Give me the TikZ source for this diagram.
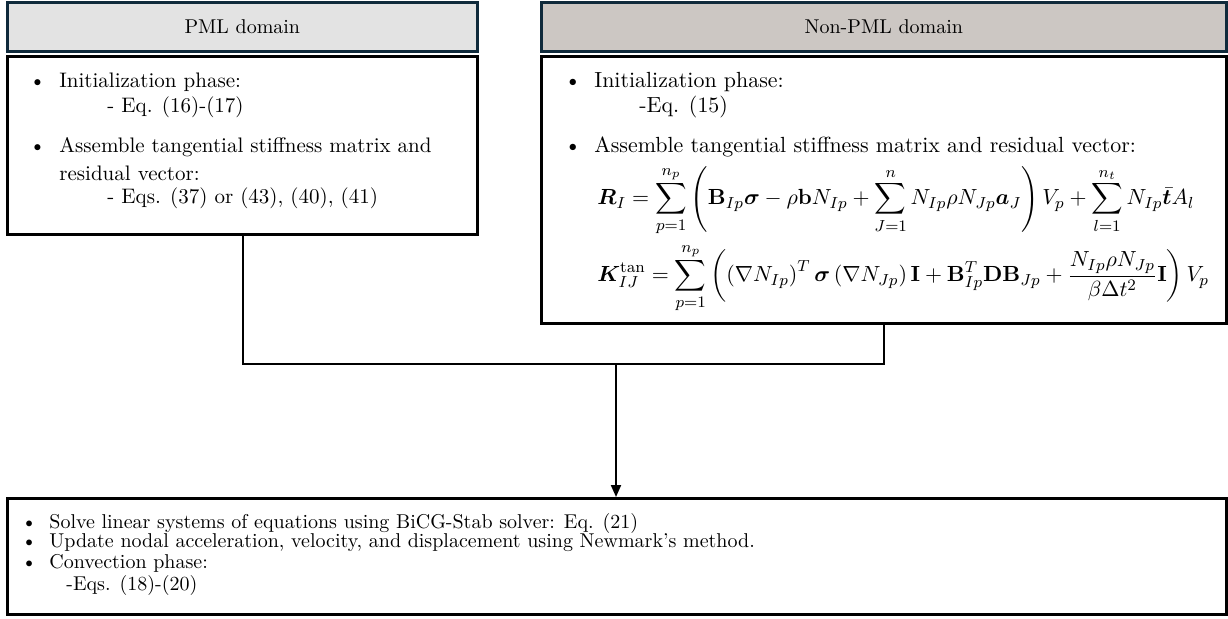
\documentclass[tikz,border=0pt]{standalone}
\usepackage{amsmath,amssymb,bm}
\usepackage{xcolor}
\usepackage{tikz}
\usetikzlibrary{positioning,calc,arrows.meta}

\definecolor{pmlfill}{HTML}{E3E3E3}
\definecolor{nonpmlfill}{HTML}{CCC7C3}
\definecolor{headline}{HTML}{0F2A3B}

\begin{document}
\begin{tikzpicture}[x=0.5pt,y=-0.5pt,
    headbox/.style={draw=headline, line width=1.3pt, minimum height=24.5pt, anchor=north west, inner sep=0pt},
    mainbox/.style={draw=black, line width=1.6pt, anchor=north west, inner sep=0pt},
    txt/.style={anchor=west, inner sep=0pt, font=\fontsize{10.5}{12.5}\selectfont},
    bigtxt/.style={txt, font=\fontsize{10.95}{13}\selectfont},
    smalltxt/.style={txt, font=\fontsize{10}{12}\selectfont},
    link/.style={line width=1pt}]
    \useasboundingbox (0,0) rectangle (1228,618);

    % PML
    \node[headbox, fill=pmlfill, minimum width=235pt] (pmlhead) at (6,1) {PML domain};
    \node[mainbox, minimum width=235pt, minimum height=89pt] (pmlbox) at (6,55) {};
    \node[txt] (pmlinit) at (29,82) {\makebox[15pt][l]{\textbullet}Initialization phase:};
    \node[txt] (pmlinitEq) at (107,107) {- Eq. (16)-(17)};
    \node[txt] (pmlasm) at (29,147) {\makebox[15pt][l]{\textbullet}Assemble tangential stiffness matrix and};
    \node[txt] (pmlasmB) at (59,173) {residual vector:};
    \node[txt] (pmlasmEq) at (107,198) {- Eqs. (37) or (43), (40), (41)};

    % Non-PML
    \node[headbox, fill=nonpmlfill, minimum width=342.5pt] (nonpmlhead) at (540,1) {Non-PML domain};
    \node[mainbox, minimum width=342.5pt, minimum height=133.5pt] (nonpmlbox) at (540,55) {};
    \node[bigtxt] (npinit) at (564,82) {\makebox[15pt][l]{\textbullet}Initialization phase:};
    \node[bigtxt] (npinitEq) at (639,107) {-Eq. (15)};
    \node[bigtxt] (npasm) at (564,147) {\makebox[15pt][l]{\textbullet}Assemble tangential stiffness matrix and residual vector:};
    \node[bigtxt] (npres) at (597,201) {$\displaystyle \bm{R}_I = \sum_{p=1}^{n_p}\left(\mathbf{B}_{Ip}\bm{\sigma} - \rho\mathbf{b}N_{Ip} + \sum_{J=1}^{n} N_{Ip}\rho N_{Jp}\bm{a}_J\right)V_p + \sum_{l=1}^{n_t} N_{Ip}\bar{\bm{t}}A_l$};
    \node[bigtxt] (npstiff) at (597,278) {$\displaystyle \bm{K}_{IJ}^{\tan} = \sum_{p=1}^{n_p}\left(\left(\nabla N_{Ip}\right)^T\bm{\sigma}\left(\nabla N_{Jp}\right)\mathbf{I} + \mathbf{B}_{Ip}^T\mathbf{D}\mathbf{B}_{Jp} + \frac{N_{Ip}\rho N_{Jp}}{\beta\Delta t^2}\mathbf{I}\right)V_p$};

    % solver step
    \node[mainbox, minimum width=609.5pt, minimum height=58pt] (solvebox) at (6,497) {};
    \node[smalltxt] (solve) at (21,523) {\makebox[14pt][l]{\textbullet}Solve linear systems of equations using BiCG-Stab solver: Eq. (21)};
    \node[smalltxt] (update) at (21,543) {\makebox[14pt][l]{\textbullet}Update nodal acceleration, velocity, and displacement using Newmark's method.};
    \node[smalltxt] (convect) at (21,563) {\makebox[14pt][l]{\textbullet}Convection phase:};
    \node[smalltxt] (convectEq) at (66,585) {-Eqs. (18)-(20)};

    % connectors
    \coordinate (join) at (616,364);
    \draw[link] (pmlbox.south) |- (join) -| (nonpmlbox.south);
    \draw[link,-{Triangle[length=6pt,width=5pt]}] (join) -- (join |- solvebox.north);
\end{tikzpicture}
\end{document}
